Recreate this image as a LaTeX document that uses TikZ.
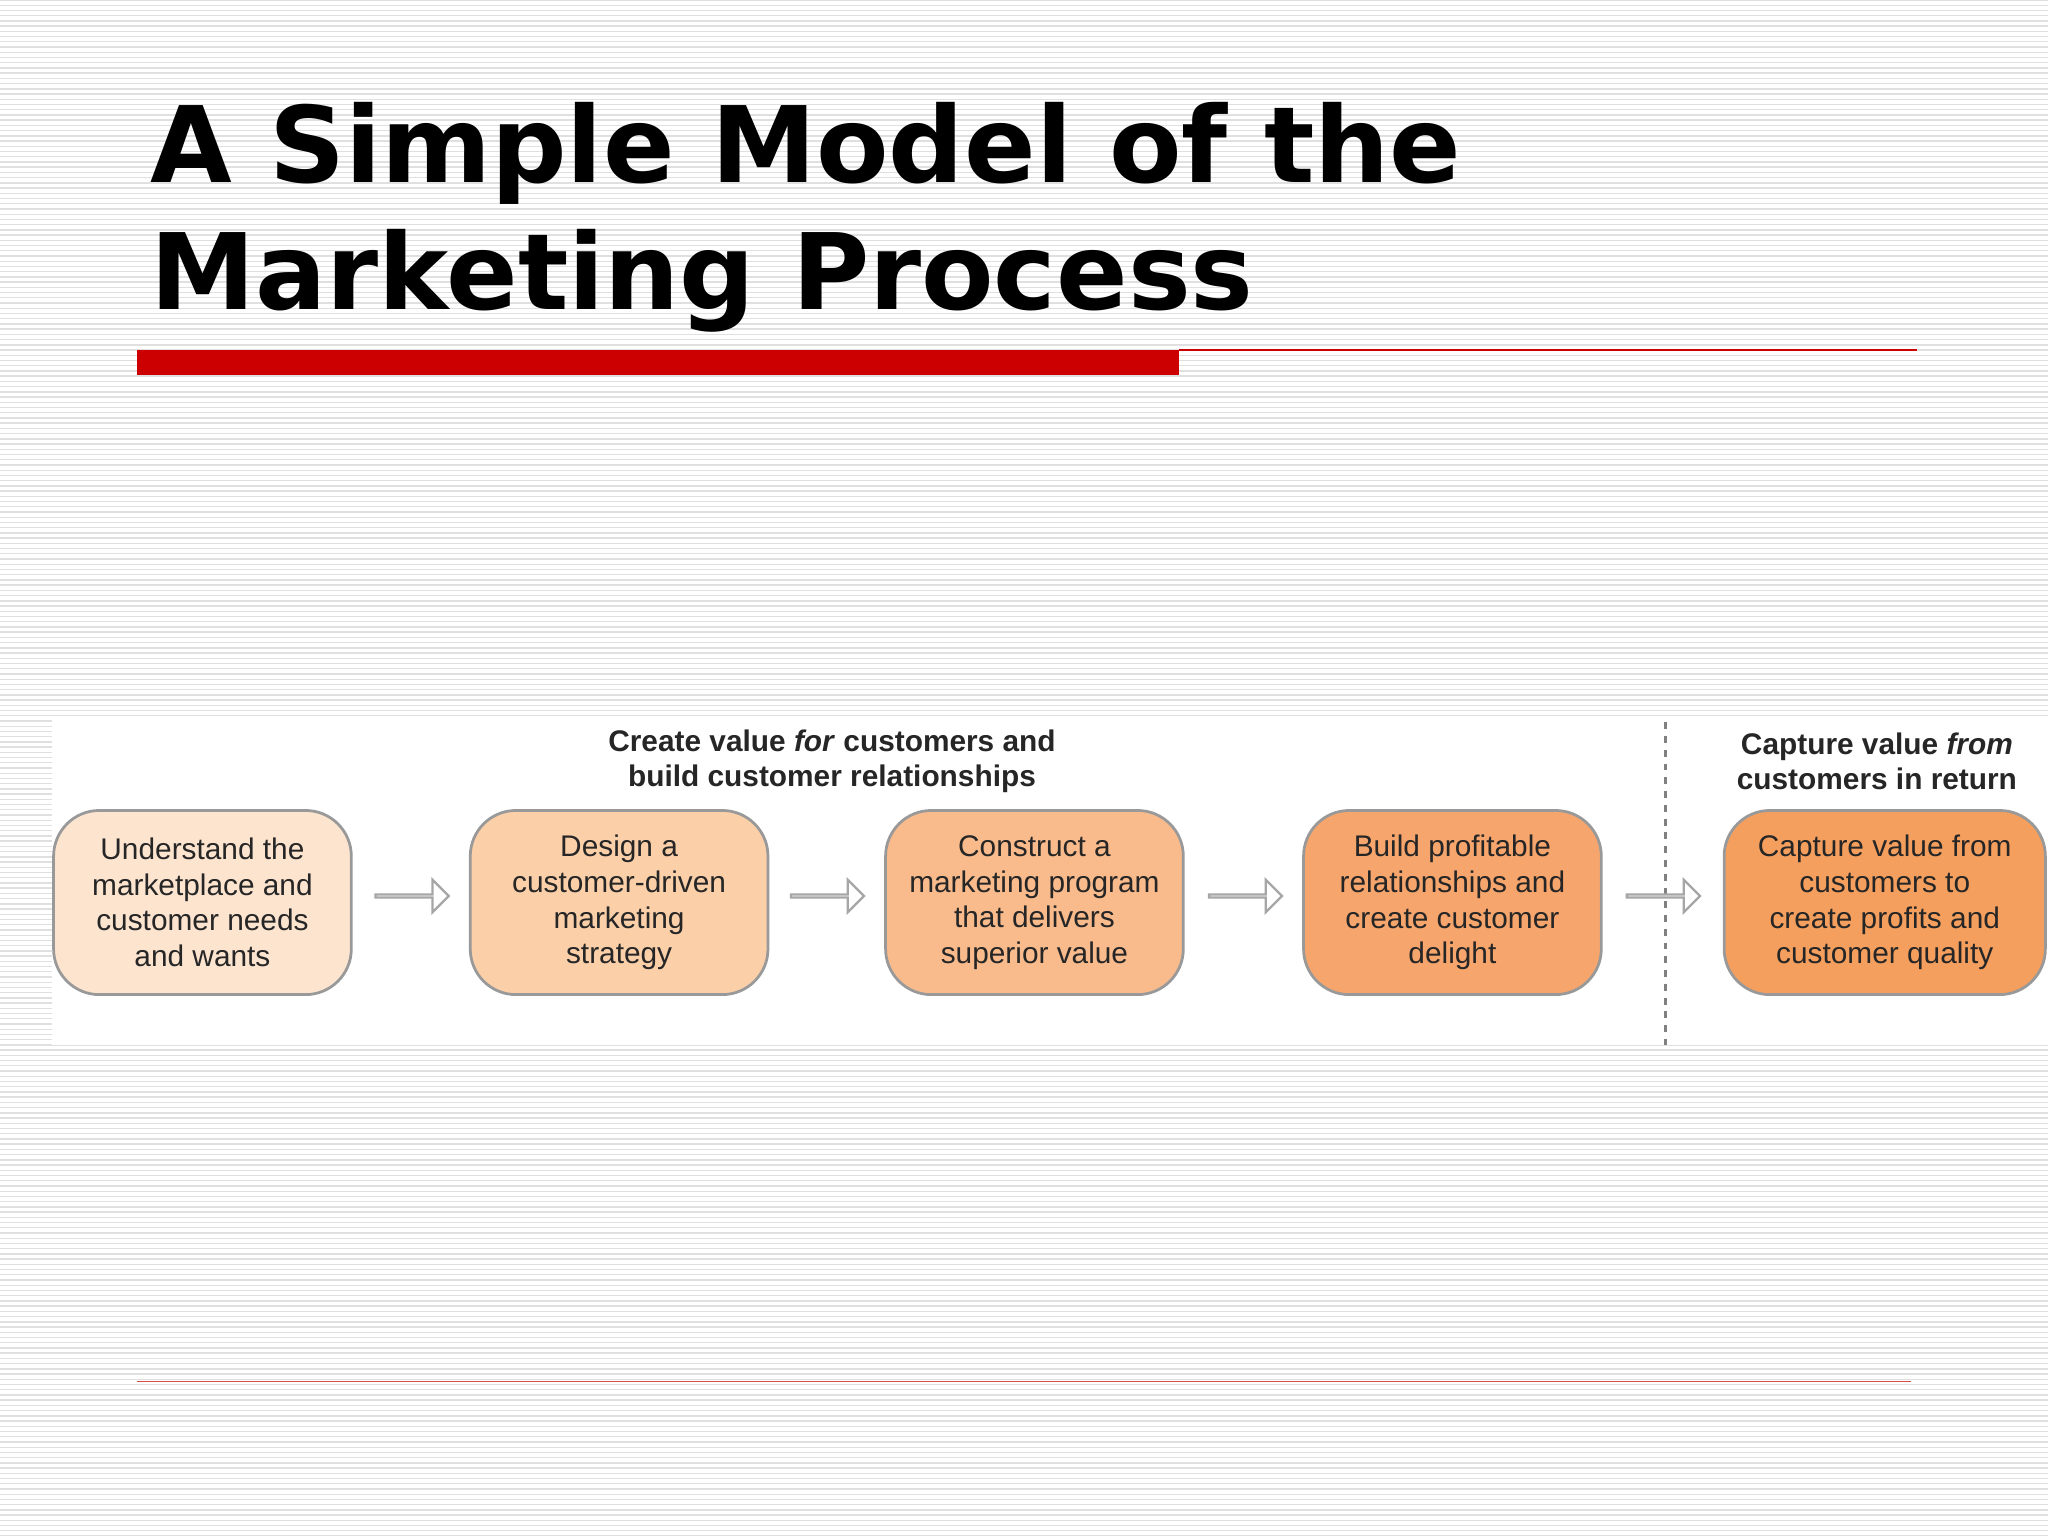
\documentclass[tikz,border=0pt]{standalone}
\usepackage{fontspec}
\setmainfont{Liberation Sans}
\newfontfamily\titlefont{DejaVu Sans}
\usetikzlibrary{shapes.arrows}
\definecolor{redbar}{HTML}{CC0000}
\definecolor{cA}{HTML}{FDE4CF}
\definecolor{cB}{HTML}{FBCFA8}
\definecolor{cC}{HTML}{F9BB8C}
\definecolor{cD}{HTML}{F6A56C}
\definecolor{cE}{HTML}{F49F5E}
\tikzset{
 stagebox/.style={draw=gray!80, line width=1.2pt, rounded corners=0.7cm, minimum width=4.56cm, minimum height=2.82cm, align=center, font=\fontsize{13}{15.5}\selectfont, text=black!85},
 hollowarrow/.style={single arrow, draw=gray!70, fill=white, line width=1pt, minimum height=1.12cm, single arrow head extend=0.18cm, minimum width=0.5cm, inner sep=0pt},
 heading/.style={align=center, font=\bfseries\fontsize{13}{15.5}\selectfont, text=black!85}
}
\begin{document}
\begin{tikzpicture}[x=0.02cm,y=-0.02cm]
\useasboundingbox (0,0) rectangle (1568,1176);
\fill[white] (0,0) rectangle (1568,1176);
\foreach \i in {0,4,...,1176} \draw[black!12, line width=0.6pt] (0,\i) -- (1568,\i);
% title
\node[anchor=base west, inner sep=0, font=\titlefont\bfseries\fontsize{46}{56}\selectfont] (t1) at (115,140) {A Simple Model of the};
\node[anchor=base west, inner sep=0, font=\titlefont\bfseries\fontsize{46}{56}\selectfont] (t2) at (115,237) {Marketing Process};
\fill[redbar] (105,268) rectangle (903,287);
\draw[redbar, line width=0.6pt] (903,268) -- (1468,268);
\draw[redbar!70, line width=0.5pt] (105,1058) -- (1463,1058);
% panel
\fill[white] (40,550) rectangle (1568,800);
\node[heading] (h1) at (637,583) {Create value \textit{for} customers and\\build customer relationships};
\node[heading] (h2) at (1437,583) {Capture value \textit{from}\\customers in return};
\coordinate (dtop) at (1275,553);
\coordinate (dbot) at (1275,800);
\draw[gray, dashed, line width=1.5pt] (dtop) -- (dbot);
\node[stagebox, fill=cA] (b1) at (155,691) {Understand the\\marketplace and\\customer needs\\and wants};
\node[stagebox, fill=cB] (b2) at (474,691) {Design a\\customer-driven\\marketing\\strategy};
\node[stagebox, fill=cC] (b3) at (792,691) {Construct a\\marketing program\\that delivers\\superior value};
\node[stagebox, fill=cD] (b4) at (1112,691) {Build profitable\\relationships and\\create customer\\delight};
\node[stagebox, fill=cE, minimum width=4.92cm] (b5) at (1443,691) {Capture value from\\customers to\\create profits and\\customer quality};
\node[hollowarrow] (a1) at (315,686) {};
\node[hollowarrow] (a2) at (633,686) {};
\node[hollowarrow] (a3) at (953,686) {};
\node[hollowarrow] (a4) at (1273,686) {};
\end{tikzpicture}
\end{document}
